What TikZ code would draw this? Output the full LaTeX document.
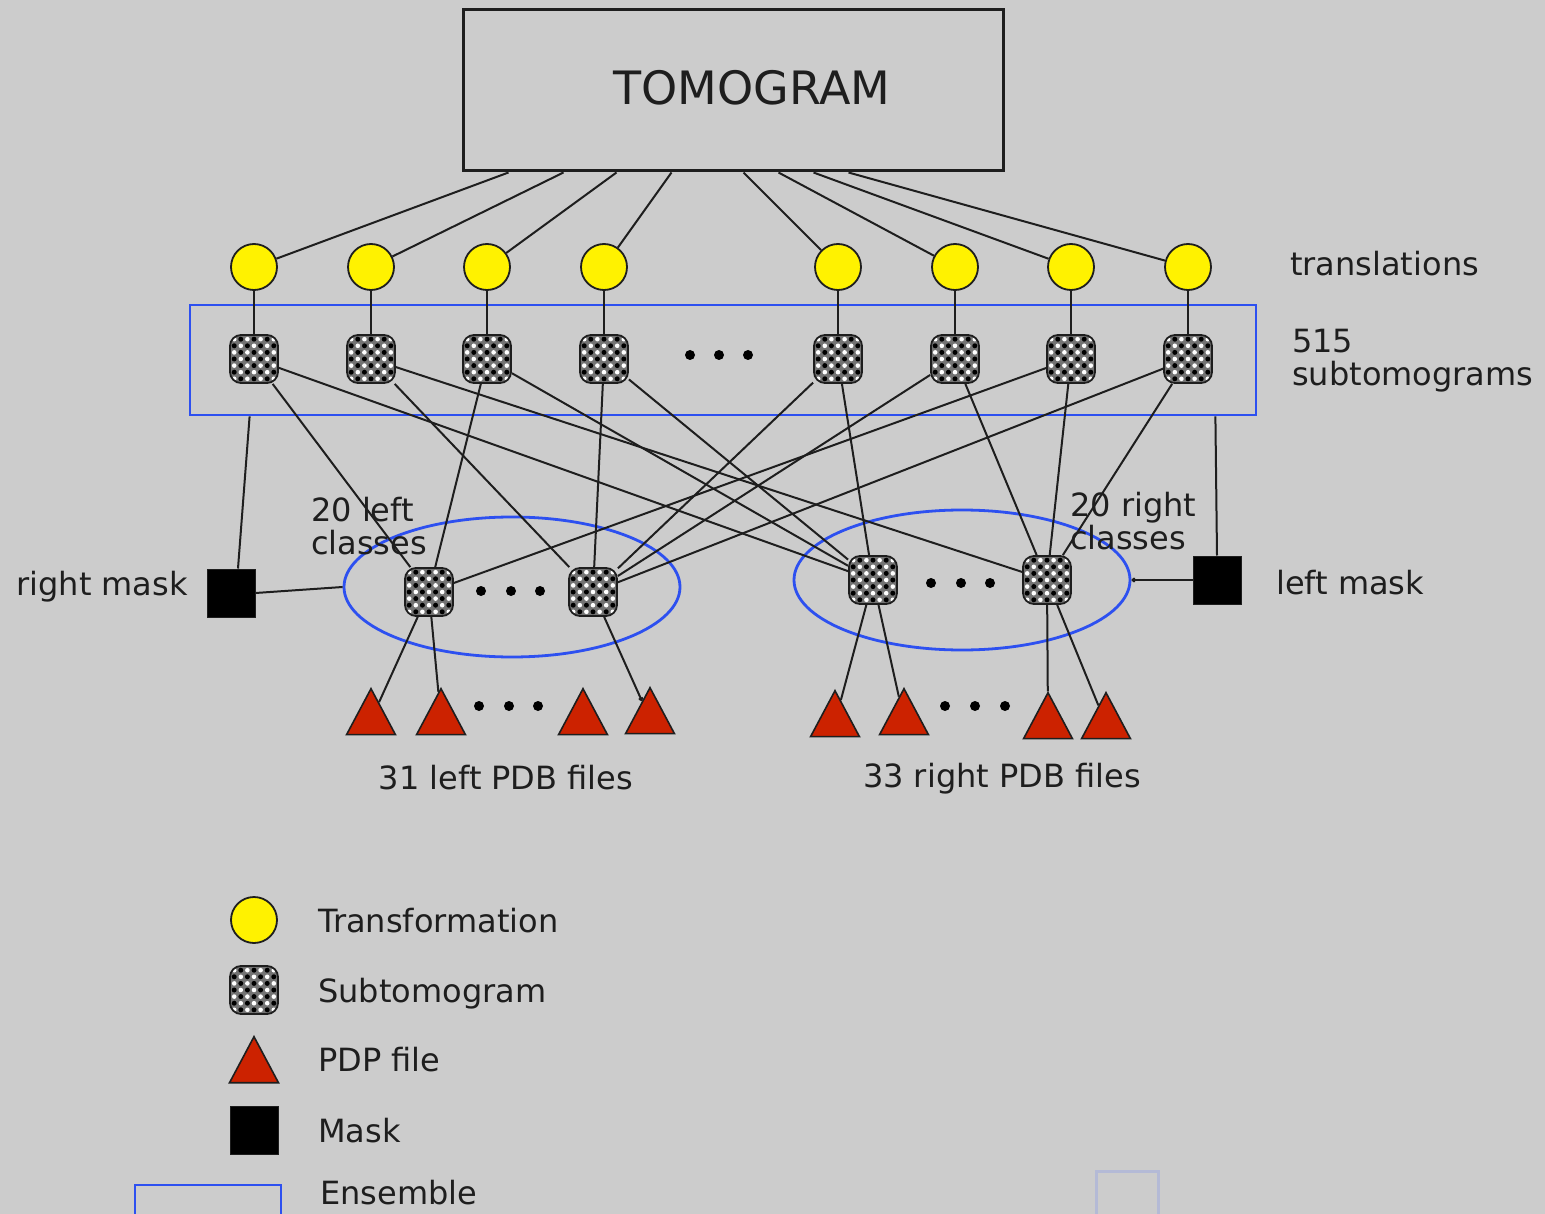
\documentclass[tikz,border=0pt]{standalone}
\usepackage{fontspec}
\setmainfont{DejaVu Sans}
\usetikzlibrary{calc,shapes.geometric,arrows.meta}
\definecolor{bg}{RGB}{204,204,204}
\definecolor{ensblue}{RGB}{45,80,240}
\definecolor{pdbred}{RGB}{204,34,0}
\definecolor{ink}{RGB}{30,30,30}
\definecolor{faint}{RGB}{180,186,214}
\begin{document}
\begin{tikzpicture}[x=1pt,y=-1pt,
  lbl/.style={font=\fontsize{32}{33}\selectfont, text=ink, inner sep=0pt},
  trans/.style={circle, draw=ink, line width=1.8pt, fill=yellow, minimum size=46pt, inner sep=0pt},
  sub/.style={rectangle, rounded corners=11pt, draw=ink, line width=1.8pt, fill=black!55,
    minimum size=48pt, inner sep=0pt,
    path picture={
      \foreach \i in {-3,...,3}{\foreach \j in {-3,...,3}{
        \pgfmathparse{int(mod(\i+\j+6,2))}
        \ifnum\pgfmathresult=0
          \fill[white] ($(path picture bounding box.center)+(\i*6.6,\j*6.6)$) circle[radius=2.3pt];
        \else
          \fill[black] ($(path picture bounding box.center)+(\i*6.6,\j*6.6)$) circle[radius=2.5pt];
        \fi
      }}
    }},
  pdb/.style={isosceles triangle, shape border rotate=90, isosceles triangle apex angle=56,
    draw=ink, line width=1.6pt, fill=pdbred, minimum height=46pt, inner sep=0pt},
  mask/.style={rectangle, draw=ink, line width=1pt, fill=black, minimum size=48pt, inner sep=0pt},
  ens/.style={draw=ensblue, line width=2.8pt},
  link/.style={draw=ink, line width=2pt},
  tip/.style={-{To[length=4pt,width=5pt]}},
  dot/.style={fill=black},
]
% canvas
\fill[bg] (0,0) rectangle (1545,1214);
\useasboundingbox (0,0) rectangle (1545,1214);

% tomogram
\node[draw=ink, line width=3pt, minimum width=540pt, minimum height=161pt, inner sep=0pt] (tomo) at (733,90.5) {};
\node[font=\fontsize{46}{48}\selectfont, text=ink, inner sep=0pt, anchor=base] (tomolbl) at (752,105) {TOMOGRAM};

% ensemble of subtomograms
\node[ens, minimum width=1066pt, minimum height=110pt, inner sep=0pt] (ensbox) at (723,360) {};

% class ensembles
\node[ens, ellipse, minimum width=336pt, minimum height=140pt, inner sep=0pt] (elL) at (512,587) {};
\node[ens, ellipse, minimum width=336pt, minimum height=140pt, inner sep=0pt] (elR) at (962,580) {};

% transformations and subtomograms
\foreach \k/\x in {1/254,2/371,3/487,4/604,5/838,6/955,7/1071,8/1188}{
  \node[trans] (c\k) at (\x,267) {};
  \node[sub] (s\k) at (\x,359) {};
  \draw[link] (c\k) -- (s\k);
}
\foreach \k/\dx in {1/47,2/102,3/155,4/210,5/282,6/317,7/352,8/387}
  \draw[link] ($(tomo.south west)+(\dx,0)$) -- (c\k);

% class subtomograms
\node[sub] (L1) at (429,592) {};
\node[sub] (L2) at (593,592) {};
\node[sub] (R1) at (873,580) {};
\node[sub] (R2) at (1047,580) {};

\foreach \a/\b in {s1/L1,s1/R1,s2/L2,s2/R2,s3/L1,s3/R1,s4/L2,s4/R1,
                   s5/L2,s5/R1,s6/L2,s6/R2,s7/L1,s7/R2,s8/L2,s8/R2}
  \draw[link] (\a) -- (\b);

% masks
\node[mask] (mR) at (231,593) {};
\node[mask] (mL) at (1217,580) {};
\draw[link] ($(mR.north)+(7,0)$) -- ($(ensbox.south west)+(61,0)$);
\draw[link] (mL.north) -- ($(ensbox.south east)+(-42,0)$);
\draw[link] (mR.east) -- (elL.west);
\draw[link,tip] (mL.west) -- (elR.east);

% PDB files
\foreach \k/\x/\y in {1/371/720,2/441/720,3/583/720,4/650/719,5/835/722,6/904/720,7/1048/724,8/1106/724}
  \node[pdb] (t\k) at (\x,\y) {};
\draw[link] (L1) -- (t1);
\draw[link] (L1) -- (t2);
\draw[link,tip] (L2) -- (t4);
\draw[link] (R1) -- (t5);
\draw[link] (R1) -- (t6);
\draw[link] (R2) -- (t7);
\draw[link] (R2) -- (t8);

% ellipsis dots
\foreach \x/\y in {690/355,719/355,748/355,
                   481/591,511/591,540/591,
                   931/583,961/583,990/583,
                   479/706,509/706,538/706,
                   945/706,975/706,1005/706}
  \fill[dot] (\x,\y) circle[radius=5pt];

% labels
\node[lbl, anchor=base west] (trlbl) at (1290,276) {translations};
\node[lbl, anchor=north west, align=left] (sublbl) at (1292,329) {515\\subtomograms};
\node[lbl, anchor=north west, align=left] (leftcl) at (311,497) {20 left\\classes};
\node[lbl, anchor=north west, align=left] (rightcl) at (1070,492) {20 right\\classes};
\node[lbl, anchor=base east] (rmlbl) at (188,595) {right mask};
\node[lbl, anchor=base west] (lmlbl) at (1276,594) {left mask};
\node[lbl, anchor=base] (lpdb) at (506,789) {31 left PDB files};
\node[lbl, anchor=base] (rpdb) at (1002,787) {33 right PDB files};

% legend
\node[trans] (kc) at (254,920) {};
\node[sub] (ks) at (254,990) {};
\node[pdb] (kt) at (254,1068) {};
\node[mask] (km) at (254,1130) {};
\draw[ens] (135,1185) rectangle (281,1222);
\node[lbl, anchor=base west] (kcl) at (318,932) {Transformation};
\node[lbl, anchor=base west] (ksl) at (318,1002) {Subtomogram};
\node[lbl, anchor=base west] (ktl) at (318,1071) {PDP file};
\node[lbl, anchor=base west] (kml) at (318,1142) {Mask};
\node[lbl, anchor=base west] (kel) at (320,1204) {Ensemble};

\draw[faint, line width=3pt] (1096,1171) rectangle (1158,1222);
\end{tikzpicture}
\end{document}
